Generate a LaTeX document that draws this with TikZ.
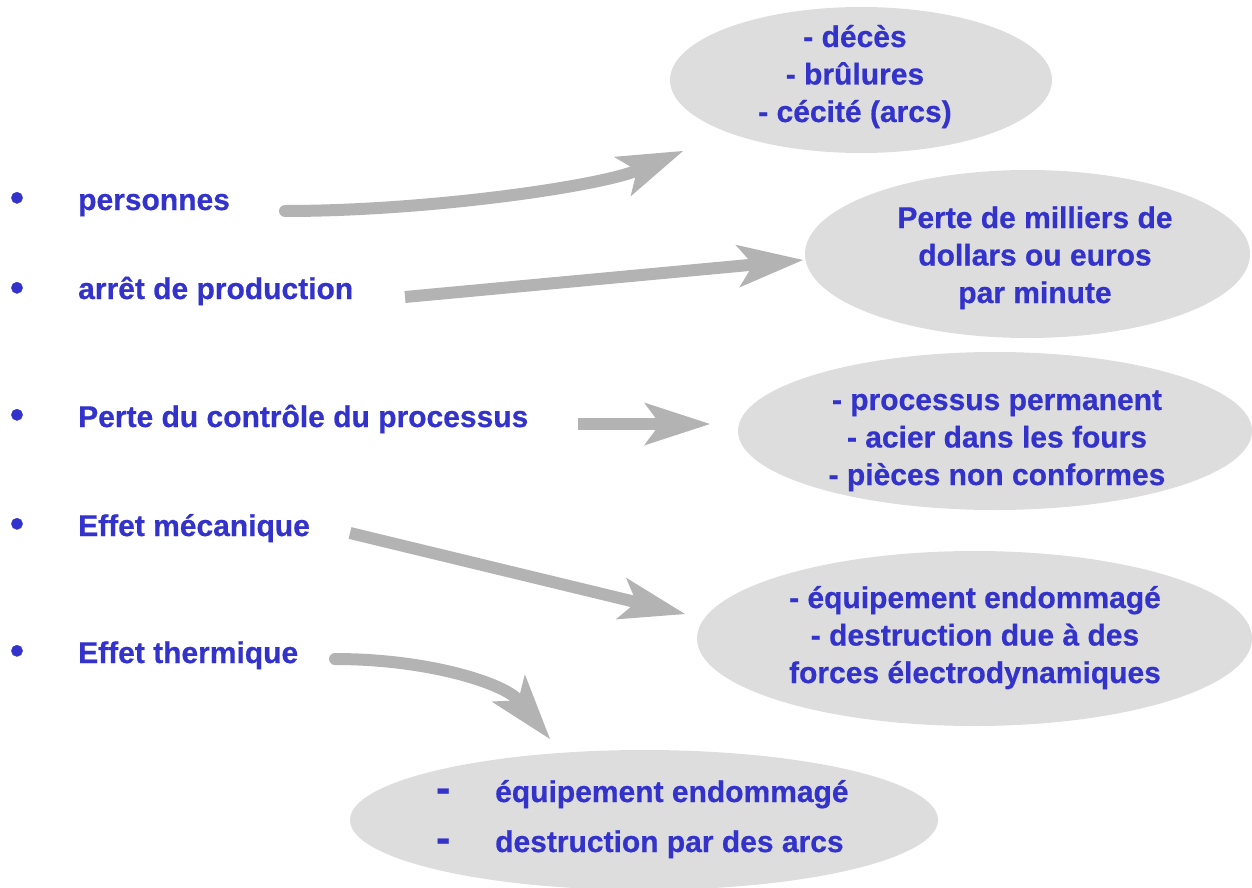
\documentclass[tikz,border=0pt]{standalone}
\usepackage{fontspec}
\setmainfont{Liberation Sans}[BoldFeatures={FakeBold=0.6}]
\usetikzlibrary{arrows.meta,shapes.geometric}
\definecolor{txtblue}{RGB}{51,51,204}
\definecolor{ellgray}{RGB}{221,221,221}
\definecolor{arrgray}{RGB}{179,179,179}
\tikzset{
  blob/.style={ellipse, fill=ellgray, draw=none, inner sep=0pt},
  lbl/.style={text=txtblue, font=\fontsize{30}{37.5}\selectfont\bfseries, inner sep=0pt},
  dot/.style={text=txtblue, font=\fontsize{40}{40}\selectfont\bfseries, inner sep=0pt},
  bigarrow/.style={draw=arrgray, line width=12pt,
    -{Stealth[length=66pt,width=43pt,inset=16pt,line width=0pt,fill=arrgray]}},
}
\newcommand{\rows}[1]{\begin{tabular}[t]{@{}c@{}}#1\end{tabular}}
\newcommand{\bigdash}{\makebox[59pt][l]{\fontsize{42}{42}\selectfont -}}
\begin{document}
\begin{tikzpicture}[x=1pt,y=-1pt]
\useasboundingbox (0,0) rectangle (1252,888);

% ellipses
\node[blob, minimum width=382pt, minimum height=146pt] (e1) at (861,80) {};
\node[blob, minimum width=445pt, minimum height=168pt] (e2) at (1027.5,254) {};
\node[blob, minimum width=514pt, minimum height=158pt] (e3) at (995,431) {};
\node[blob, minimum width=555pt, minimum height=175pt] (e4) at (974.5,638.5) {};
\node[blob, minimum width=588pt, minimum height=140pt] (e5) at (644,820) {};

% ellipse texts
\node[lbl, anchor=base] (t1) at (855,47) {\rows{- décès\\- brûlures\\- cécité (arcs)}};
\node[lbl, anchor=base] (t2) at (1035,228) {\rows{Perte de milliers de\\dollars ou euros\\par minute}};
\node[lbl, anchor=base] (t3) at (997,410) {\rows{- processus permanent\\- acier dans les fours\\- pièces non conformes}};
\node[lbl, anchor=base] (t4) at (975,608) {\rows{- équipement endommagé\\- destruction due à des\\forces électrodynamiques}};
\node[lbl, anchor=base west] (t5) at (436,802) {\begin{tabular}[t]{@{}l@{}}\bigdash équipement endommagé\\[12.5pt]\bigdash destruction par des arcs\end{tabular}};

% left list
\node[dot, anchor=base] (b1) at (17,211) {•};
\node[lbl, anchor=base west] (l1) at (78,210) {personnes};
\node[dot, anchor=base] (b2) at (17,301) {•};
\node[lbl, anchor=base west] (l2) at (78,299) {arrêt de production};
\node[dot, anchor=base] (b3) at (17,428) {•};
\node[lbl, anchor=base west] (l3) at (78,427) {Perte du contrôle du processus};
\node[dot, anchor=base] (b4) at (17,537) {•};
\node[lbl, anchor=base west] (l4) at (78,536) {Effet mécanique};
\node[dot, anchor=base] (b5) at (17,664) {•};
\node[lbl, anchor=base west] (l5) at (78,663) {Effet thermique};

% arrow end points
\coordinate (s1) at (285,211);  \coordinate (h1) at (683,151);
\coordinate (s2) at (405,297);  \coordinate (h2) at (803,260);
\coordinate (s3) at (578,424);  \coordinate (h3) at (710,424);
\coordinate (s4) at (350,533);  \coordinate (h4) at (685,614);
\coordinate (s5) at (335,659);  \coordinate (h5) at (550,739);

\draw[bigarrow, line cap=round] (s1) .. controls (430,211) and (600,186) .. (h1);
\draw[bigarrow] (s2) -- (h2);
\draw[bigarrow] (s3) -- (h3);
\draw[bigarrow] (s4) -- (h4);
\draw[bigarrow, line cap=round] (s5) .. controls (430,659) and (505,684) .. (h5);
\end{tikzpicture}
\end{document}
